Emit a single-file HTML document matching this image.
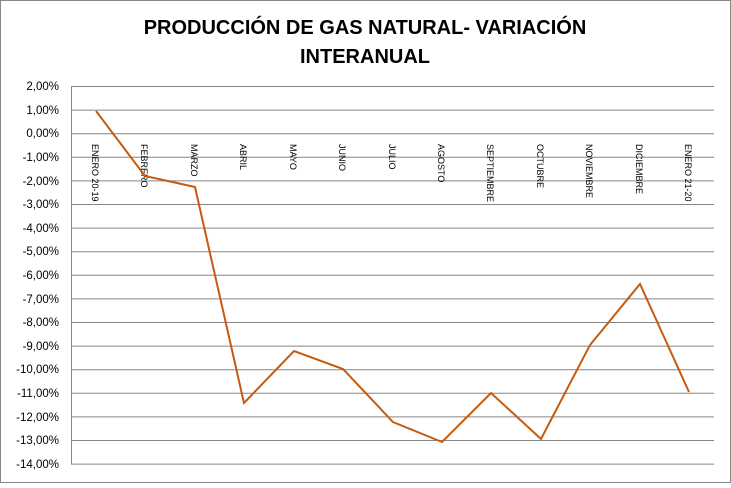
<!DOCTYPE html>
<html><head><style>body{margin:0;background:#fff}</style></head><body>
<svg width="731" height="483" xmlns="http://www.w3.org/2000/svg" font-family="Liberation Sans, sans-serif">
<rect x="0.5" y="0.5" width="730" height="482" fill="#fff" stroke="#888"/>
<text x="365" y="34" text-anchor="middle" font-size="20" font-weight="bold">PRODUCCIÓN DE GAS NATURAL- VARIACIÓN</text>
<text x="365" y="63" text-anchor="middle" font-size="20" font-weight="bold">INTERANUAL</text>
<g stroke="#868686" stroke-width="1">
<line x1="71" y1="86.5" x2="714" y2="86.5"/>
<line x1="71" y1="110.1" x2="714" y2="110.1"/><line x1="71" y1="133.7" x2="714" y2="133.7"/><line x1="71" y1="157.3" x2="714" y2="157.3"/><line x1="71" y1="180.9" x2="714" y2="180.9"/><line x1="71" y1="204.5" x2="714" y2="204.5"/><line x1="71" y1="228.1" x2="714" y2="228.1"/><line x1="71" y1="251.7" x2="714" y2="251.7"/><line x1="71" y1="275.3" x2="714" y2="275.3"/><line x1="71" y1="298.9" x2="714" y2="298.9"/><line x1="71" y1="322.5" x2="714" y2="322.5"/><line x1="71" y1="346.1" x2="714" y2="346.1"/><line x1="71" y1="369.7" x2="714" y2="369.7"/><line x1="71" y1="393.3" x2="714" y2="393.3"/><line x1="71" y1="416.9" x2="714" y2="416.9"/><line x1="71" y1="440.5" x2="714" y2="440.5"/><line x1="71" y1="464.1" x2="714" y2="464.1"/>
<line x1="71.5" y1="86" x2="71.5" y2="464"/>
</g>
<g font-size="11.5" text-anchor="end">
<text x="59" y="90">2,00%</text><text x="59" y="114">1,00%</text><text x="59" y="137">0,00%</text><text x="59" y="161">-1,00%</text><text x="59" y="185">-2,00%</text><text x="59" y="208">-3,00%</text><text x="59" y="232">-4,00%</text><text x="59" y="255">-5,00%</text><text x="59" y="279">-6,00%</text><text x="59" y="303">-7,00%</text><text x="59" y="326">-8,00%</text><text x="59" y="350">-9,00%</text><text x="59" y="373">-10,00%</text><text x="59" y="397">-11,00%</text><text x="59" y="421">-12,00%</text><text x="59" y="444">-13,00%</text><text x="59" y="468">-14,00%</text>
</g>
<g font-size="9">
<text transform="translate(92,144) rotate(90)">ENERO 20-19</text>
<text transform="translate(141,144) rotate(90)">FEBRERO</text>
<text transform="translate(191,144) rotate(90)">MARZO</text>
<text transform="translate(240,144) rotate(90)">ABRIL</text>
<text transform="translate(290,144) rotate(90)">MAYO</text>
<text transform="translate(339,144) rotate(90)">JUNIO</text>
<text transform="translate(389,144) rotate(90)">JULIO</text>
<text transform="translate(438,144) rotate(90)">AGOSTO</text>
<text transform="translate(487,144) rotate(90)">SEPTIEMBRE</text>
<text transform="translate(537,144) rotate(90)">OCTUBRE</text>
<text transform="translate(586,144) rotate(90)">NOVIEMBRE</text>
<text transform="translate(636,144) rotate(90)">DICIEMBRE</text>
<text transform="translate(685,144) rotate(90)">ENERO 21-20</text>
</g>
<polyline fill="none" stroke="#C55A11" stroke-width="2" points="96,111 145,176 195,187 244,403 294,351 343,369 393,422 442,442 491,393 541,439 590,345 640,284 689,392"/>
</svg>
</body></html>
